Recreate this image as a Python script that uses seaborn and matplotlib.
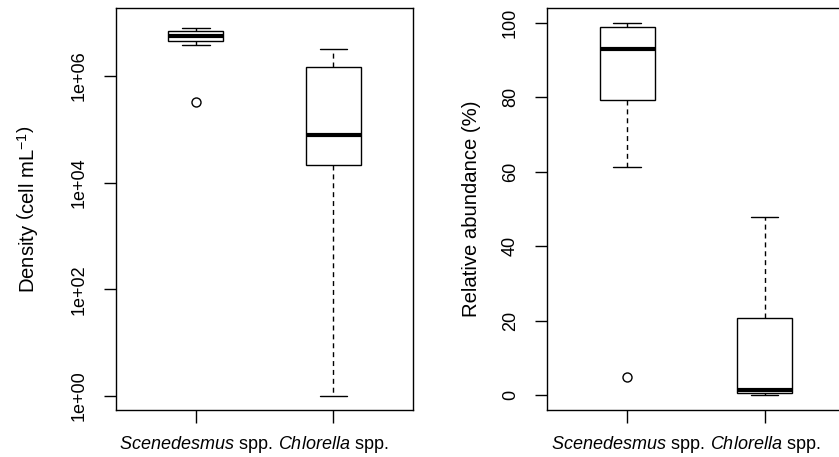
import numpy as np
import pandas as pd
import matplotlib
matplotlib.use("Agg")
import matplotlib.pyplot as plt
from matplotlib.ticker import NullLocator
import seaborn as sns

# ---- data ----
taxa = ["Scenedesmus", "Chlorella"]
tick_labels = [r"$\it{Scenedesmus}$ spp.", r"$\it{Chlorella}$ spp."]

scen_density = [3.3e5, 3.8e6, 4.5e6, 5.0e6, 5.7e6, 6.3e6, 7.1e6, 7.5e6, 7.8e6]
chlo_density = [1.0, 5.0e3, 2.1e4, 4.0e4, 7.7e4, 3.0e5, 1.5e6, 2.5e6, 3.2e6]

scen_abund = [4.8, 61.2, 79.4, 88.0, 93.0, 97.0, 99.0, 99.5, 100.0]
chlo_abund = [0.0, 0.3, 0.5, 1.0, 1.4, 8.0, 20.8, 35.0, 48.0]

density_ticks = [1e0, 1e2, 1e4, 1e6]
density_tick_labels = ["1e+00", "1e+02", "1e+04", "1e+06"]
abund_ticks = [0, 20, 40, 60, 80, 100]

df_density = pd.DataFrame({
    "taxon": [taxa[0]] * len(scen_density) + [taxa[1]] * len(chlo_density),
    "value": scen_density + chlo_density,
})
df_abund = pd.DataFrame({
    "taxon": [taxa[0]] * len(scen_abund) + [taxa[1]] * len(chlo_abund),
    "value": scen_abund + chlo_abund,
})

sns.set_style("white")
plt.rcParams["font.family"] = ["Liberation Sans", "DejaVu Sans"]
plt.rcParams["mathtext.fontset"] = "custom"
plt.rcParams["mathtext.rm"] = "Liberation Sans"
plt.rcParams["mathtext.it"] = "Liberation Sans:italic"
plt.rcParams["mathtext.bf"] = "Liberation Sans:bold"
plt.rcParams["text.color"] = "black"
plt.rcParams["axes.labelcolor"] = "black"
plt.rcParams["xtick.color"] = "black"
plt.rcParams["ytick.color"] = "black"
plt.rcParams["xtick.labelcolor"] = "black"
plt.rcParams["ytick.labelcolor"] = "black"

FS = 13
FS_LAB = 14.6

fig = plt.figure(figsize=(8.39, 4.57), dpi=100)
ax1 = fig.add_axes([0.1383, 0.1028, 0.354, 0.8797])
ax2 = fig.add_axes([0.6525, 0.1028, 0.354, 0.8797])

box_kws = dict(
    x="taxon", y="value", width=0.4, color="white", linecolor="black",
    linewidth=1.0,
    whiskerprops=dict(linestyle=(0, (3.6, 2.8)), linewidth=1.0, color="black"),
    capprops=dict(linewidth=1.0, color="black"),
    medianprops=dict(linewidth=3.0, color="black"),
    flierprops=dict(marker="o", markerfacecolor="none", markeredgecolor="black",
                    markersize=6.5, markeredgewidth=1.0),
)

sns.boxplot(data=df_density, ax=ax1, **box_kws)
sns.boxplot(data=df_abund, ax=ax2, **box_kws)

# left panel (log scale applied after the stats are computed on raw values)
ax1.set_yscale("log")
ax1.set_ylim(10 ** -0.2625, 10 ** 7.275)
ax1.set_yticks(density_ticks)
ax1.set_yticklabels(density_tick_labels)
ax1.yaxis.set_minor_locator(NullLocator())
ax1.set_ylabel(r"Density $\left(\mathrm{cell\ mL}^{-1}\right)$", fontsize=FS_LAB,
               color="black")

# right panel
ax2.set_ylim(-3.95, 104)
ax2.set_yticks(abund_ticks)
ax2.set_yticklabels([str(t) for t in abund_ticks])
ax2.set_ylabel("Relative abundance (%)", fontsize=FS_LAB, color="black")

for ax in (ax1, ax2):
    ax.set_xlim(-0.58, 1.58)
    ax.set_xticks([0, 1])
    ax.set_xticklabels(tick_labels)
    ax.set_xlabel("")
    for s in ax.spines.values():
        s.set_visible(True)
        s.set_color("black")
        s.set_linewidth(1.0)
    ax.tick_params(axis="both", which="major", direction="out", length=9,
                   width=1.0, color="black", labelcolor="black", labelsize=FS,
                   left=True, bottom=True)
    ax.tick_params(axis="x", pad=8)
    ax.tick_params(axis="y", pad=11.5, labelrotation=90)
    for lab in ax.get_yticklabels():
        lab.set_va("center")
    ax.yaxis.label.set_va("baseline")

ax1.yaxis.set_label_coords(-0.2727, 0.5)
ax2.yaxis.set_label_coords(-0.237, 0.5)

fig.savefig("out.png", dpi=100, facecolor="white")
